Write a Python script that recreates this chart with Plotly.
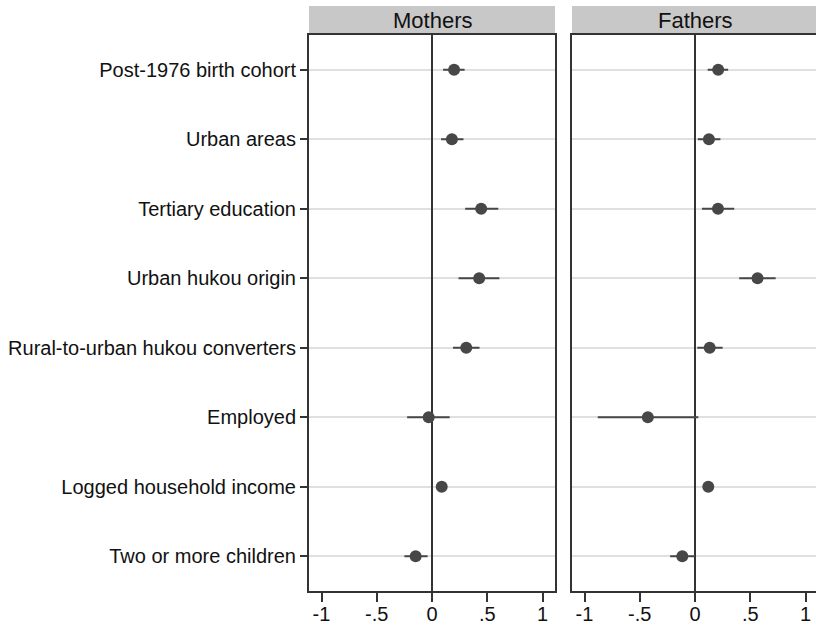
import plotly.graph_objects as go

# Coefficient estimates with 95% confidence intervals
categories = [
    "Post-1976 birth cohort",
    "Urban areas",
    "Tertiary education",
    "Urban hukou origin",
    "Rural-to-urban hukou converters",
    "Employed",
    "Logged household income",
    "Two or more children",
]

mothers_est = [0.20, 0.18, 0.445, 0.427, 0.31, -0.03, 0.088, -0.148]
mothers_lo = [0.10, 0.082, 0.30, 0.24, 0.19, -0.225, 0.06, -0.25]
mothers_hi = [0.295, 0.285, 0.60, 0.61, 0.43, 0.16, 0.115, -0.04]

fathers_est = [0.21, 0.126, 0.208, 0.566, 0.133, -0.427, 0.12, -0.115]
fathers_lo = [0.115, 0.025, 0.063, 0.40, 0.02, -0.88, 0.095, -0.225]
fathers_hi = [0.30, 0.23, 0.355, 0.73, 0.25, 0.03, 0.145, 0.0]

panels = ["Mothers", "Fathers"]
x_ticks = [-1, -0.5, 0, 0.5, 1]
x_tick_text = ["-1", "-.5", "0", ".5", "1"]

W, H = 816, 628
DARK = "#333333"
DOT = "#474747"
FONT = "Liberation Sans, Arial, sans-serif"

fig = go.Figure()


def add_panel(est, lo, hi, xaxis, yaxis):
    fig.add_trace(go.Scatter(
        x=est,
        y=categories,
        mode="markers",
        marker=dict(size=12, color=DOT),
        error_x=dict(
            type="data",
            symmetric=False,
            array=[h - e for h, e in zip(hi, est)],
            arrayminus=[e - l for e, l in zip(est, lo)],
            width=0,
            thickness=2,
            color=DOT,
        ),
        xaxis=xaxis,
        yaxis=yaxis,
        showlegend=False,
        hoverinfo="skip",
    ))


add_panel(mothers_est, mothers_lo, mothers_hi, "x", "y")
add_panel(fathers_est, fathers_lo, fathers_hi, "x2", "y2")

# Panel geometry (pixels)
top_px, bottom_px, head_top_px = 35, 591, 6
m_left, m_right = 309, 555
f_left, f_right = 572, 816
px_per_unit = 110.5
m_zero = 432
f_zero = 695

y_dom = [1 - bottom_px / H, 1 - top_px / H]

common_x = dict(
    tickvals=x_ticks,
    ticktext=x_tick_text,
    ticks="outside",
    ticklen=9,
    tickwidth=2,
    tickcolor=DARK,
    ticklabelstandoff=-5,
    tickfont=dict(size=20, color="#111111", family=FONT),
    showgrid=False,
    zeroline=True,
    zerolinecolor=DARK,
    zerolinewidth=2,
    showline=True,
    linecolor=DARK,
    linewidth=2,
    mirror=True,
    fixedrange=True,
)

common_y = dict(
    type="category",
    categoryorder="array",
    categoryarray=categories,
    range=[7.5, -0.5],
    showgrid=True,
    gridcolor="#e0e0e0",
    gridwidth=2,
    zeroline=False,
    showline=True,
    linecolor=DARK,
    linewidth=2,
    domain=y_dom,
    fixedrange=True,
)

fig.update_layout(
    width=W,
    height=H,
    margin=dict(l=0, r=0, t=0, b=0),
    paper_bgcolor="white",
    plot_bgcolor="white",
    font=dict(family=FONT, color="#111111"),
    xaxis=dict(
        common_x,
        domain=[m_left / W, m_right / W],
        range=[(m_left - m_zero) / px_per_unit, (m_right - m_zero) / px_per_unit],
        anchor="y",
    ),
    xaxis2=dict(
        common_x,
        domain=[f_left / W, f_right / W],
        range=[(f_left - f_zero) / px_per_unit, (f_right - f_zero) / px_per_unit],
        anchor="y2",
    ),
    yaxis=dict(
        common_y,
        anchor="x",
        mirror=True,
        ticks="outside",
        ticklen=7,
        tickwidth=2,
        tickcolor=DARK,
        tickfont=dict(size=20, color="#111111", family=FONT),
        automargin=False,
    ),
    yaxis2=dict(
        common_y,
        anchor="x2",
        mirror=False,
        ticks="",
        showticklabels=False,
    ),
)

# Panel header strips with titles
for name, (x0, x1) in zip(panels, [(m_left, m_right), (f_left, f_right)]):
    fig.add_shape(
        type="rect",
        xref="paper", yref="paper",
        x0=x0 / W, x1=x1 / W,
        y0=1 - top_px / H, y1=1 - head_top_px / H,
        fillcolor="#c8c8c8",
        line=dict(width=0),
        layer="below",
    )
    fig.add_annotation(
        x=(x0 + (m_right - m_left) / 2) / W,
        y=1 - (top_px + head_top_px) / 2 / H,
        xref="paper", yref="paper",
        text=name,
        showarrow=False,
        font=dict(size=22, color="#111111", family=FONT),
        xanchor="center", yanchor="middle",
    )

fig.write_html("out.html")
